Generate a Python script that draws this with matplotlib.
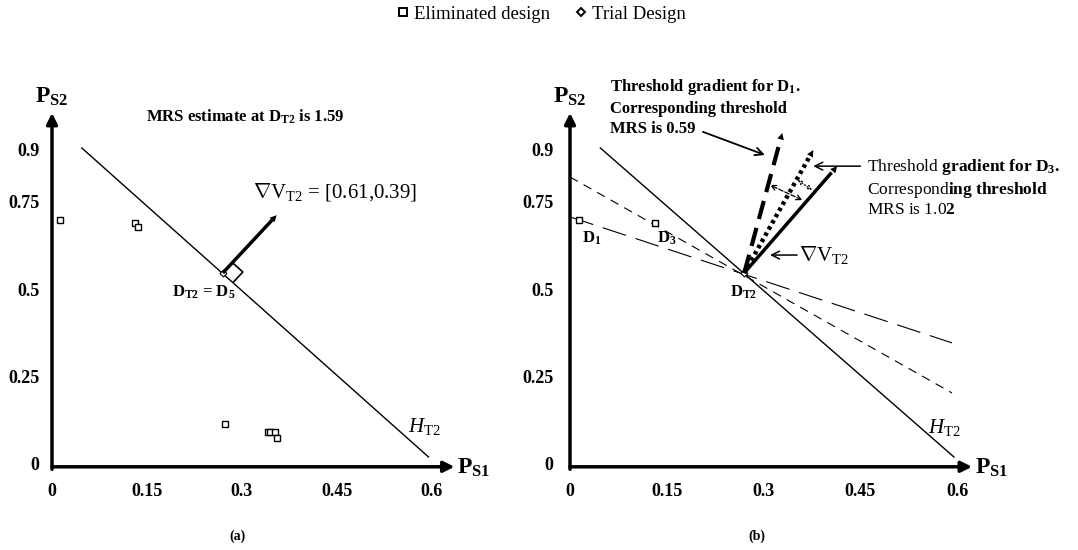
import matplotlib
matplotlib.use('Agg')
from matplotlib import pyplot as plt
from matplotlib.lines import Line2D
import numpy as np

plt.rcParams['font.family'] = ['Liberation Serif', 'DejaVu Serif']
plt.rcParams['mathtext.fontset'] = 'custom'
plt.rcParams['mathtext.rm'] = 'Liberation Serif'
plt.rcParams['mathtext.bf'] = 'Liberation Serif:bold'
plt.rcParams['mathtext.it'] = 'Liberation Serif:italic'

# Оси
x_ticks = [0, 0.15, 0.3, 0.45, 0.6]
x_tick_labels = ['0', '0.15', '0.3', '0.45', '0.6']
y_ticks = [0, 0.25, 0.5, 0.75, 0.9]
y_tick_labels = ['0', '0.25', '0.5', '0.75', '0.9']

# (a) отброшенные варианты и пробный вариант
elim_x = [0.013, 0.131, 0.136, 0.273, 0.341, 0.344, 0.352, 0.355]
elim_y = [0.697, 0.689, 0.677, 0.114, 0.091, 0.091, 0.091, 0.074]
trial_x = [0.27]
trial_y = [0.546]

# гиперплоскость H_T2 (MRS 1.59)
ht2_x = [0.047, 0.595]
ht2_y = [0.903, 0.02]
grad_a_end = [0.355, 0.711]

# (b)
d_x = [0.014, 0.132]
d_y = [0.697, 0.689]
d3_line_x = [0.0, 0.592]
d3_line_y = [0.82, 0.203]
d1_line_x = [0.0, 0.592]
d1_line_y = [0.706, 0.346]
grad_d1_end = [0.329, 0.946]
grad_d3_end = [0.377, 0.897]
grad_v_end = [0.414, 0.851]

NABLA = r'$\nabla$'


def setup_axes(ax, x_arrow_end, pad_y):
    ax.set_xlim(0, 0.64)
    ax.set_ylim(0, 1.0)
    for s in ax.spines.values():
        s.set_visible(False)
    ax.set_xticks(x_ticks)
    ax.set_xticklabels(x_tick_labels, fontweight='bold', fontsize=13)
    ax.set_yticks(y_ticks)
    ax.set_yticklabels(y_tick_labels, fontweight='bold', fontsize=13)
    ax.tick_params(axis='x', length=0, pad=14)
    ax.tick_params(axis='y', length=0, pad=pad_y)
    ax.annotate('', xy=(x_arrow_end, -0.008), xytext=(0, -0.008),
                arrowprops=dict(arrowstyle='-|>', lw=2.5, color='k',
                                mutation_scale=16, shrinkA=0, shrinkB=0),
                annotation_clip=False)
    ax.annotate('', xy=(0, 1.003), xytext=(0, -0.015),
                arrowprops=dict(arrowstyle='-|>', lw=2.5, color='k',
                                mutation_scale=16, shrinkA=0, shrinkB=0),
                annotation_clip=False)
    ax.text(0.0, 1.05, r'$\mathbf{P_{S2}}$', fontsize=17, ha='center', va='center')
    ax.text(x_arrow_end + 0.004, -0.01, r'$\mathbf{P_{S1}}$', fontsize=17,
            ha='left', va='center')


def thick_arrow(ax, start, end, lw, ls, head=12):
    start = np.array(start)
    end = np.array(end)
    cut = start + (end - start) * 0.94
    ax.plot([start[0], cut[0]], [start[1], cut[1]], color='k', lw=lw, ls=ls,
            dash_capstyle='butt', solid_capstyle='butt')
    ax.annotate('', xy=end, xytext=start,
                arrowprops=dict(arrowstyle='-|>', lw=0, color='k',
                                mutation_scale=head, shrinkA=0, shrinkB=0))


fig = plt.figure(figsize=(10.78, 5.5), dpi=100)
ax1 = fig.add_axes([52 / 1078, 86 / 550, 405 / 1078, 350 / 550])
ax2 = fig.add_axes([570 / 1078, 86 / 550, 413 / 1078, 350 / 550])

setup_axes(ax1, 0.636, 9)
setup_axes(ax2, 0.623, 12)

# ---- (a) ----
ax1.plot(ht2_x, ht2_y, color='k', lw=1)
ax1.plot(elim_x, elim_y, ls='', marker='s', ms=4.5, mfc='white', mec='k', mew=1)
ax1.plot(trial_x, trial_y, ls='', marker='D', ms=3.5, mfc='white', mec='k', mew=0.8)
thick_arrow(ax1, (trial_x[0], trial_y[0]), grad_a_end, 2.5, '-')

# прямой угол
D = ax1.transData.transform((trial_x[0], trial_y[0]))
u = ax1.transData.transform((ht2_x[1], ht2_y[1])) - D
u = u / np.hypot(*u)
n = ax1.transData.transform(grad_a_end) - D
n = n / np.hypot(*n)
s = 14
corners = np.array([D + s * n, D + s * n + s * u, D + s * u])
corners = ax1.transData.inverted().transform(corners)
ax1.plot(corners[:, 0], corners[:, 1], color='k', lw=1.2)

ax1.text(0.305, 0.991, r'MRS estimate at D$_{\mathbf{T2}}$ is 1.59', fontsize=12,
         fontweight='bold', ha='center', va='center')
ax1.text(0.318, 0.777, NABLA + r'V$_{\mathrm{T2}}$ = [0.61,0.39]', fontsize=15,
         ha='left', va='center')
ax1.text(0.19, 0.491, r'D$_{\mathbf{T2}}$ = D$_{\mathbf{5}}$', fontsize=12,
         fontweight='bold', ha='left', va='center')
ax1.text(0.563, 0.106, r'$H_{\mathrm{T2}}$', fontsize=15, ha='left', va='center')

# ---- (b) ----
ax2.plot(ht2_x, ht2_y, color='k', lw=1)
ax2.plot(d3_line_x, d3_line_y, color='k', lw=0.8, dashes=(8, 6))
ax2.plot(d1_line_x, d1_line_y, color='k', lw=0.8, dashes=(22, 9))
ax2.plot(d_x, d_y, ls='', marker='s', ms=4.5, mfc='white', mec='k', mew=1)
ax2.plot(trial_x, trial_y, ls='', marker='D', ms=3.5, mfc='white', mec='k', mew=0.8)

start = (trial_x[0], trial_y[0])
thick_arrow(ax2, start, grad_d1_end, 3, (0, (4.5, 2.2)))
thick_arrow(ax2, start, grad_d3_end, 3.2, (0, (0.8, 0.8)))
thick_arrow(ax2, start, grad_v_end, 2.5, '-')

ax2.annotate('', xy=(0.31, 0.797), xytext=(0.36, 0.754),
             arrowprops=dict(arrowstyle='<->', lw=0.9, color='k', ls='--',
                             shrinkA=0, shrinkB=0, mutation_scale=9))
ax2.annotate('', xy=(0.353, 0.811), xytext=(0.375, 0.783),
             arrowprops=dict(arrowstyle='<->', lw=0.9, color='k', ls=':',
                             shrinkA=0, shrinkB=0, mutation_scale=7))

ax2.annotate('', xy=(0.302, 0.883), xytext=(0.206, 0.949),
             arrowprops=dict(arrowstyle='->', lw=1.3, color='k',
                             shrinkA=0, shrinkB=0, mutation_scale=14))
ax2.annotate('', xy=(0.377, 0.851), xytext=(0.45, 0.851),
             arrowprops=dict(arrowstyle='->', lw=1.1, color='k',
                             shrinkA=0, shrinkB=0, mutation_scale=14))
ax2.annotate('', xy=(0.31, 0.597), xytext=(0.352, 0.597),
             arrowprops=dict(arrowstyle='->', lw=1.1, color='k',
                             shrinkA=0, shrinkB=0, mutation_scale=14))

ax2.text(0.062, 1.02,
         'Threshold gradient for D$_{\\mathbf{1}}$.\nCorresponding threshold\nMRS is 0.59',
         fontsize=12, fontweight='bold', ha='left', va='center', linespacing=1.35)
ax2.text(0.46, 0.789,
         'Threshold $\\mathbf{gradient\\ for\\ D_{3}.}$\n'
         'Correspond$\\mathbf{ing\\ threshold}$\nMRS is 1.0$\\mathbf{2}$',
         fontsize=12.5, ha='left', va='center', linespacing=1.2)
ax2.text(0.355, 0.597, NABLA + r'V$_{\mathrm{T2}}$', fontsize=15, ha='left', va='center')
ax2.text(0.019, 0.646, r'D$_{\mathbf{1}}$', fontsize=12, fontweight='bold',
         ha='left', va='center')
ax2.text(0.135, 0.646, r'D$_{\mathbf{3}}$', fontsize=12, fontweight='bold',
         ha='left', va='center')
ax2.text(0.248, 0.49, r'D$_{\mathbf{T2}}$', fontsize=12, fontweight='bold',
         ha='left', va='center')
ax2.text(0.555, 0.103, r'$H_{\mathrm{T2}}$', fontsize=15, ha='left', va='center')

fig.text(238 / 1078, 1 - 536 / 550, '(a)', fontsize=10, fontweight='bold',
         ha='center', va='center')
fig.text(757 / 1078, 1 - 536 / 550, '(b)', fontsize=10, fontweight='bold',
         ha='center', va='center')

handles = [
    Line2D([], [], ls='', marker='s', ms=5.5, mfc='white', mec='k', mew=1.4),
    Line2D([], [], ls='', marker='D', ms=4.5, mfc='white', mec='k', mew=1.4),
]
fig.legend(handles, ['Eliminated design', 'Trial Design'], loc='center',
           bbox_to_anchor=(0.5, 1 - 14 / 550), ncol=2, frameon=False, fontsize=13.5,
           handletextpad=0.0, columnspacing=1.05, handlelength=1.2)

fig.savefig('out.png', dpi=100)
